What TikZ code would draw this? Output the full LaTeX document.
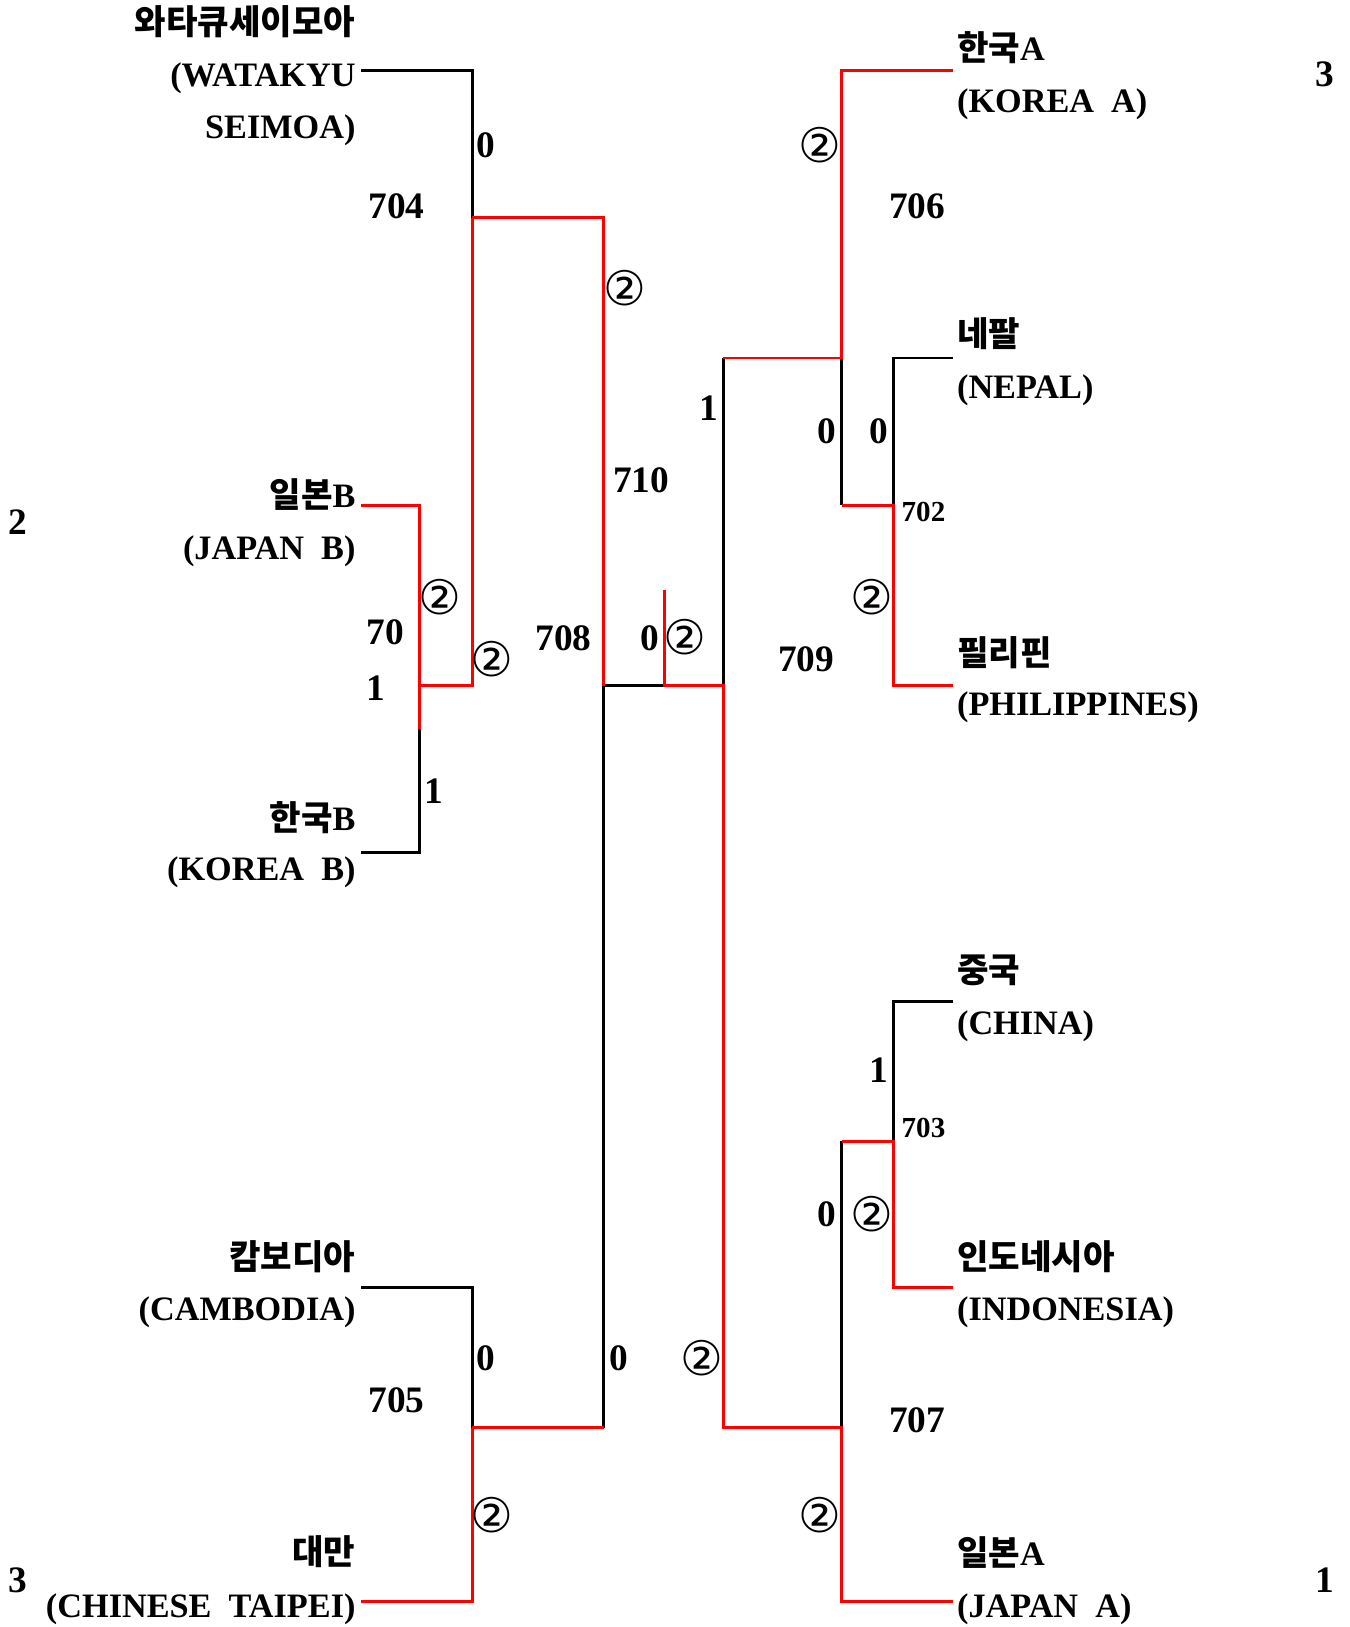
\documentclass[tikz,border=0pt]{standalone}
\usepackage{fontspec}
\setmainfont{Liberation Serif}
\newfontfamily\krfont{Noto Sans CJK KR}
\newfontfamily\symfont{DejaVu Sans}
\newcommand{\kr}[1]{{\krfont\bfseries\fontsize{16.5}{16.5}\selectfont #1}}
\usetikzlibrary{positioning}

\begin{document}
\begin{tikzpicture}[x=0.5pt,y=-0.5pt,
  every node/.style={inner sep=0pt},
  loseline/.style={black,line width=1.4pt},
  winline/.style={red,line width=1.4pt},
  lname/.style={anchor=base east,font=\fontsize{16.5}{16.5}\selectfont\bfseries},
  rname/.style={anchor=base west,font=\fontsize{16.5}{16.5}\selectfont\bfseries},
  gameno/.style={font=\fontsize{18}{27}\selectfont\bfseries},
  smallno/.style={font=\fontsize{14}{14}\selectfont\bfseries},
  score/.style={font=\fontsize{18}{18}\selectfont\bfseries},
  circ/.style={font=\symfont\fontsize{23}{23}\selectfont}]
\useasboundingbox (0,0) rectangle (1301,1568);

% team line ends
\coordinate (wat) at (348,68);
\coordinate (jpb) at (348,487);
\coordinate (korb) at (348,822);
\coordinate (cam) at (348,1241);
\coordinate (tpe) at (348,1543);
\coordinate (kora) at (918,68);
\coordinate (nep) at (918,345);
\coordinate (phi) at (918,661);
\coordinate (chn) at (918,965);
\coordinate (idn) at (918,1241);
\coordinate (jpa) at (918,1543);
% game joints
\coordinate (g701) at (404,661);
\coordinate (g701e) at (404,703);
\coordinate (g702) at (861,487);
\coordinate (g703) at (861,1100);
\coordinate (g704) at (455,210);
\coordinate (g705) at (455,1376);
\coordinate (g706) at (811,345);
\coordinate (g707) at (811,1376);
\coordinate (g708) at (582,661);
\coordinate (g709) at (697,661);
\coordinate (g710) at (640,661);
\coordinate (g710t) at (640,569);

% losing lines
\draw[loseline] (wat) -| (g704);
\draw[loseline] (korb) -| (g701e);
\draw[loseline] (cam) -| (g705);
\draw[loseline] (g705 -| g708) -- (g708) -- (g710);
\draw[loseline] (g709) -- (g709 |- g706);
\draw[loseline] (g706) -- (g706 |- g702);
\draw[loseline] (nep) -| (g702);
\draw[loseline] (chn) -| (g703);
\draw[loseline] (g703 -| g707) -- (g707);

% winning lines
\draw[winline] (jpb) -| (g701e);
\draw[winline] (g701) -| (g704);
\draw[winline] (g704) -| (g708);
\draw[winline] (tpe) -| (g705);
\draw[winline] (g705) -- (g705 -| g708);
\draw[winline] (g710t) -- (g710) -- (g709) |- (g707) |- (jpa);
\draw[winline] (g709 |- g706) -- (g706) |- (kora);
\draw[winline] (g706 |- g702) -- (g702) |- (phi);
\draw[winline] (g703 -| g707) -- (g703) |- (idn);

% teams, left
\node[lname] (watko) at (343,33) {\kr{와타큐세이모아}};
\node[lname] (waten) at (343,83) {(WATAKYU};
\node[lname] (waten2) at (343,133) {SEIMOA)};
\node[lname] (jpbko) at (343,489) {\kr{일본}B};
\node[lname] (jpben) at (343,539) {(JAPAN\hspace{0.5em}B)};
\node[lname] (korbko) at (343,800) {\kr{한국}B};
\node[lname] (korben) at (343,849) {(KOREA\hspace{0.5em}B)};
\node[lname] (camko) at (343,1223) {\kr{캄보디아}};
\node[lname] (camen) at (343,1273) {(CAMBODIA)};
\node[lname] (tpeko) at (343,1508) {\kr{대만}};
\node[lname] (tpeen) at (343,1559) {(CHINESE\hspace{0.5em}TAIPEI)};
% teams, right
\node[rname] (korako) at (922,58) {\kr{한국}A};
\node[rname] (koraen) at (922,108) {(KOREA\hspace{0.5em}A)};
\node[rname] (nepko) at (922,334) {\kr{네팔}};
\node[rname] (nepen) at (922,384) {(NEPAL)};
\node[rname] (phiko) at (922,641) {\kr{필리핀}};
\node[rname] (phien) at (922,690) {(PHILIPPINES)};
\node[rname] (chnko) at (922,947) {\kr{중국}};
\node[rname] (chnen) at (922,997) {(CHINA)};
\node[rname] (idnko) at (922,1223) {\kr{인도네시아}};
\node[rname] (idnen) at (922,1273) {(INDONESIA)};
\node[rname] (jpako) at (922,1509) {\kr{일본}A};
\node[rname] (jpaen) at (922,1559) {(JAPAN\hspace{0.5em}A)};

% game numbers
\node[gameno,align=left,anchor=north west] (n701) at (353,597) {70\\1};
\node[smallno] (n702) at (890,493) {702};
\node[smallno] (n703) at (890,1087) {703};
\node[gameno] (n704) at (382,199) {704};
\node[gameno] (n705) at (382,1349) {705};
\node[gameno] (n706) at (884,199) {706};
\node[gameno] (n707) at (884,1369) {707};
\node[gameno] (n708) at (543,615) {708};
\node[gameno] (n709) at (777,635) {709};
\node[gameno] (n710) at (618,463) {710};

% scores
\node[score] (s704a) at (468,140) {0};
\node[circ] (s704b) at (474,635) {②};
\node[circ] (s701a) at (424,575) {②};
\node[score] (s701b) at (418,762) {1};
\node[circ] (s708a) at (602,278) {②};
\node[score] (s708b) at (596,1309) {0};
\node[score] (s710a) at (626,615) {0};
\node[circ] (s710b) at (660,614) {②};
\node[score] (s709a) at (683,393) {1};
\node[circ] (s709b) at (676,1309) {②};
\node[circ] (s706a) at (790,140) {②};
\node[score] (s706b) at (797,416) {0};
\node[score] (s702a) at (847,416) {0};
\node[circ] (s702b) at (840,575) {②};
\node[score] (s703a) at (847,1031) {1};
\node[circ] (s703b) at (840,1170) {②};
\node[score] (s707a) at (797,1170) {0};
\node[circ] (s707b) at (790,1460) {②};
\node[score] (s705a) at (468,1309) {0};
\node[circ] (s705b) at (474,1460) {②};

% final places
\node[score] (pjpb) at (17,503) {2};
\node[score] (ptpe) at (17,1523) {3};
\node[score] (pkora) at (1277,72) {3};
\node[score] (pjpa) at (1277,1523) {1};
\end{tikzpicture}
\end{document}
